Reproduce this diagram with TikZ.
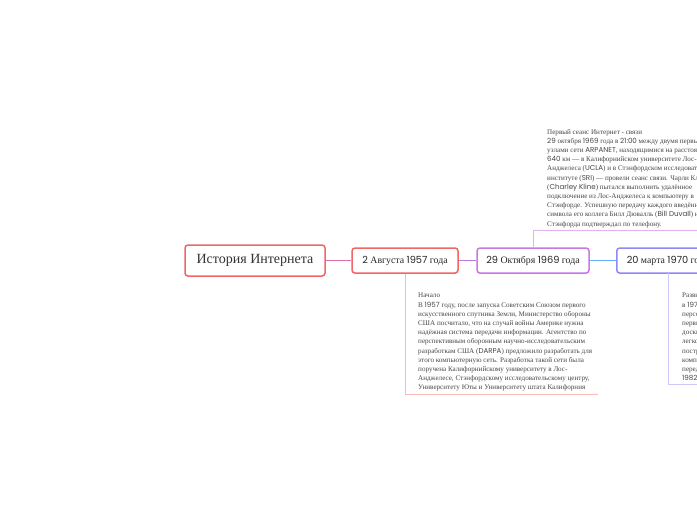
\documentclass[tikz,border=0pt]{standalone}
\usepackage{fontspec}
\setmainfont{Liberation Serif}
\newfontfamily\pop{Poppins}
\usetikzlibrary{positioning,shadows}
\newcommand{\lat}[1]{{\pop #1}}
\definecolor{redtop}{HTML}{F26666}
\definecolor{violettop}{HTML}{C877E6}
\definecolor{bluetop}{HTML}{8F88F5}
\tikzset{
  topic/.style={draw, rounded corners=3pt, line width=1.5pt, fill=white, inner sep=0pt,
    drop shadow={opacity=0.12, shadow xshift=0pt, shadow yshift=-1.2pt}},
  note/.style={align=left, inner sep=0pt, font=\fontsize{7.1}{9.2}\selectfont, text=black!72},
  branch/.style={line width=0.6pt}
}

\begin{document}
\begin{tikzpicture}[x=1pt, y=-1pt]
    \useasboundingbox (0,0) rectangle (697,520);
    \clip (0,0) rectangle (697,520);
    \fill[white] (0,0) rectangle (697,520);

    % main topics
    \node(root) [topic, draw=redtop, minimum width=140pt, minimum height=31pt, font=\fontsize{14}{16}\selectfont, text=black!80] at (255,260.5) {История Интернета};
    \node(t1957) [topic, draw=redtop, minimum width=106pt, minimum height=25pt, font=\fontsize{9.8}{11}\selectfont, text=black!85] at (405,260.5) {\lat{2} Августа \lat{1957} года};
    \node(t1969) [topic, draw=violettop, minimum width=112pt, minimum height=25pt, font=\fontsize{9.8}{11}\selectfont, text=black!85] at (533,260.5) {\lat{29} Октября \lat{1969} года};
    \node(t1970) [topic, draw=bluetop, minimum height=25pt, inner xsep=10pt, anchor=west, font=\fontsize{9.8}{11}\selectfont, text=black!85] at (616,260.5) {\lat{20} марта \lat{1970} года};

    \draw[branch, line width=1.2pt, draw=redtop!45!violettop] (root) -- (t1957);
    \draw[branch, line width=1.2pt, draw=violettop!85!bluetop] (t1957) -- (t1969);
    \draw[branch, line width=1.2pt, draw=bluetop!70!cyan] (t1969) -- (t1970);

    % notes
    \coordinate (c1957) at (405,394);
    \coordinate (e1957) at (598,394);
    \coordinate (c1969) at (533,230);
    \coordinate (e1969) at (700,230);
    \coordinate (s1970) at (668,273);
    \coordinate (c1970) at (668,384);
    \coordinate (e1970) at (700,384);

    \draw[branch, draw=redtop!45] (t1957.south) -- (c1957) -- (e1957);
    \draw[branch, draw=violettop!55] (t1969.north) -- (c1969) -- (e1969);
    \draw[branch, draw=bluetop!45] (s1970) -- (c1970) -- (e1970);

    \node(n1957) [note, anchor=north west] at (418,293) {Начало\\
      В \lat{1957} году, после запуска Советским Союзом первого\\
      искусственного спутника Земли, Министерство обороны\\
      США посчитало, что на случай войны Америке нужна\\
      надёжная система передачи информации. Агентство по\\
      перспективным оборонным научно-исследовательским\\
      разработкам США (\lat{DARPA}) предложило разработать для\\
      этого компьютерную сеть. Разработка такой сети была\\
      поручена Калифорнийскому университету в Лос-\\
      Анджелесе, Стэнфордскому исследовательскому центру,\\
      Университету Юты и Университету штата Калифорния};

    \node(n1969) [note, anchor=north west] at (547,129) {Первый сеанс Интернет - связи\\
      \lat{29} октября \lat{1969} года в \lat{21:00} между двумя первыми\\
      узлами сети \lat{ARPANET}, находящимися на расстоянии\\
      \lat{640} км — в Калифорнийском университете Лос-\\
      Анджелеса (\lat{UCLA}) и в Стэнфордском исследовательском\\
      институте (\lat{SRI}) — провели сеанс связи. Чарли Клайн\\
      (\lat{Charley Kline}) пытался выполнить удалённое\\
      подключение из Лос-Анджелеса к компьютеру в\\
      Стэнфорде. Успешную передачу каждого введённого\\
      символа его коллега Билл Дювалль (\lat{Bill Duvall}) из\\
      Стэнфорда подтверждал по телефону.};

    \node(n1970) [note, anchor=north west] at (682,293) {Развитие сети\\
      в \lat{1970}-х годах появились\\
      персональные компьютеры\\
      первые электронные\\
      доски объявлений\\
      легко связать\\
      построить\\
      компьютеры\\
      передачи\\
      \lat{1982} году};
\end{tikzpicture}
\end{document}
